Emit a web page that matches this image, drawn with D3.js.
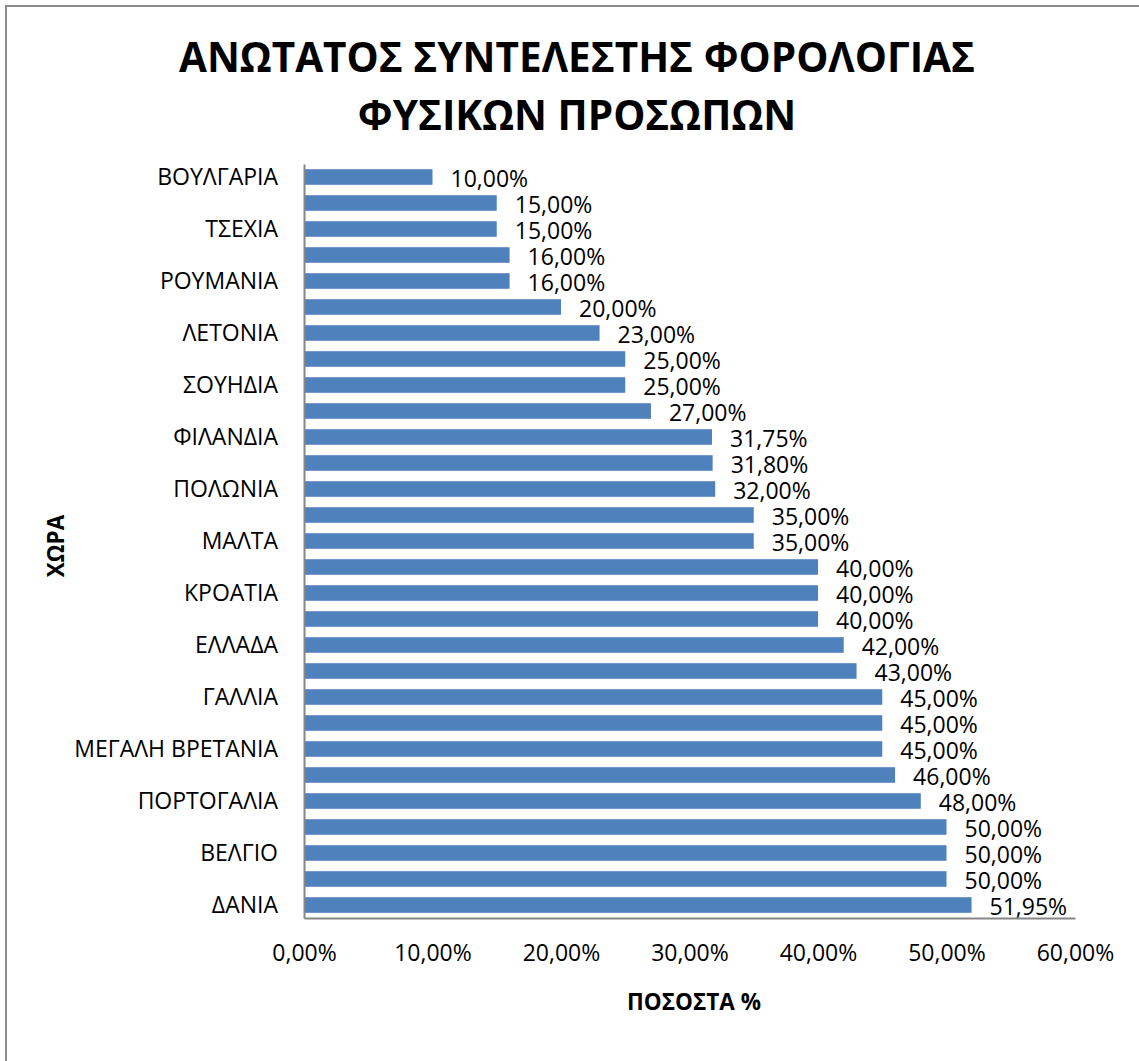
<!DOCTYPE html>
<html>
<head>
<meta charset="utf-8">
<script src="https://cdn.jsdelivr.net/npm/d3@7"></script>
<style>
  html, body { margin: 0; padding: 0; background: #fff; }
  svg { display: block; }
  text { font-family: "Open Sans", sans-serif; fill: #000; }
</style>
</head>
<body>
<svg id="chart" width="1139" height="1061"></svg>
<script>
const categories = [
  "ΒΟΥΛΓΑΡΙΑ", "ΛΙΘΟΥΑΝΙΑ", "ΤΣΕΧΙΑ", "ΟΥΓΓΑΡΙΑ", "ΡΟΥΜΑΝΙΑ", "ΕΣΘΟΝΙΑ",
  "ΛΕΤΟΝΙΑ", "ΣΛΟΒΑΚΙΑ", "ΣΟΥΗΔΙΑ", "ΚΥΠΡΟΣ", "ΦΙΛΑΝΔΙΑ", "ΙΡΛΑΝΔΙΑ",
  "ΠΟΛΩΝΙΑ", "ΣΛΟΒΕΝΙΑ", "ΜΑΛΤΑ", "ΛΟΥΞΕΜΒΟΥΡΓΟ", "ΚΡΟΑΤΙΑ", "ΙΤΑΛΙΑ",
  "ΕΛΛΑΔΑ", "ΓΕΡΜΑΝΙΑ", "ΓΑΛΛΙΑ", "ΙΣΠΑΝΙΑ", "ΜΕΓΑΛΗ ΒΡΕΤΑΝΙΑ", "ΑΥΣΤΡΙΑ",
  "ΠΟΡΤΟΓΑΛΙΑ", "ΟΛΛΑΝΔΙΑ", "ΒΕΛΓΙΟ", "ΝΟΡΒΗΓΙΑ", "ΔΑΝΙΑ"
];
const values = [
  10, 15, 15, 16, 16, 20,
  23, 25, 25, 27, 31.75, 31.80,
  32, 35, 35, 40, 40, 40,
  42, 43, 45, 45, 45, 46,
  48, 50, 50, 50, 51.95
];
const shownCategories = categories.filter((d, i) => i % 2 === 0);
const xTicks = [0, 10, 20, 30, 40, 50, 60];
const titleLines = ["ΑΝΩΤΑΤΟΣ ΣΥΝΤΕΛΕΣΤΗΣ ΦΟΡΟΛΟΓΙΑΣ", "ΦΥΣΙΚΩΝ ΠΡΟΣΩΠΩΝ"];
const xTitle = "ΠΟΣΟΣΤΑ %";
const yTitle = "ΧΩΡΑ";

const data = categories.map((c, i) => ({ c, v: values[i] }));

const loc = d3.formatLocale({ decimal: ",", thousands: ".", grouping: [3], currency: ["", "€"] });
const pct = v => loc.format(".2f")(v) + "%";

const svg = d3.select("#chart");

// outer border (chart area frame)
svg.append("rect")
  .attr("x", 6).attr("y", 6).attr("width", 1150).attr("height", 1070)
  .attr("fill", "none").attr("stroke", "#8c8c8c").attr("stroke-width", 2);

const x = d3.scaleLinear().domain([0, 60]).range([304, 1075]);
const y = d3.scaleBand().domain(categories).range([164, 918]).paddingInner(0.4).paddingOuter(0.2);

// bars
svg.append("g").selectAll("rect").data(data).join("rect")
  .attr("x", x(0))
  .attr("y", d => y(d.c))
  .attr("width", d => x(d.v) - x(0))
  .attr("height", y.bandwidth())
  .attr("fill", "#4f81bd");

// data labels
svg.append("g").selectAll("text").data(data).join("text")
  .attr("x", d => x(d.v) + 18)
  .attr("y", d => y(d.c) + y.bandwidth() / 2 + 1)
  .attr("dominant-baseline", "central")
  .attr("font-size", 23)
  .text(d => pct(d.v));

// x axis
const xAxis = svg.append("g")
  .attr("transform", `translate(0,${918})`)
  .call(d3.axisBottom(x).tickValues(xTicks).tickFormat(pct).tickSize(0).tickPadding(0));
xAxis.select(".domain").attr("stroke", "#868686").attr("stroke-width", 2);
xAxis.selectAll("text")
  .attr("font-size", 23).attr("font-family", "Open Sans, sans-serif")
  .attr("fill", "#000").attr("dy", null).attr("y", 43);

// y axis
const yAxis = svg.append("g")
  .attr("transform", `translate(${x(0)},0)`)
  .call(d3.axisLeft(y).tickValues(shownCategories).tickSize(0).tickPadding(26));
yAxis.select(".domain").attr("stroke", "#868686").attr("stroke-width", 2);
yAxis.selectAll("text")
  .attr("font-size", 23).attr("font-family", "Open Sans, sans-serif")
  .attr("fill", "#000").attr("dy", "0.35em");

// title
svg.append("g").selectAll("text").data(titleLines).join("text")
  .attr("x", 577)
  .attr("y", (d, i) => 72 + i * 58)
  .attr("text-anchor", "middle")
  .attr("font-size", 40.5)
  .attr("font-weight", "bold")
  .text(d => d);

// axis titles
svg.append("text")
  .attr("x", 694).attr("y", 1010)
  .attr("text-anchor", "middle")
  .attr("font-size", 22.5).attr("font-weight", "bold")
  .text(xTitle);

svg.append("text")
  .attr("transform", `translate(64,546) rotate(-90)`)
  .attr("text-anchor", "middle")
  .attr("font-size", 22.5).attr("font-weight", "bold")
  .text(yTitle);
</script>
</body>
</html>
